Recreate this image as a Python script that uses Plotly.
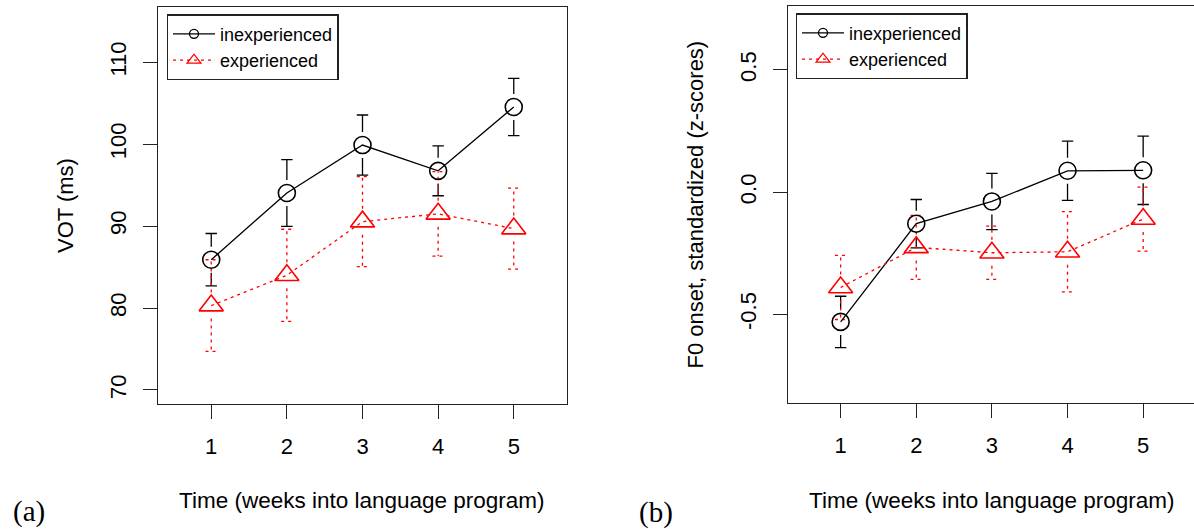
import plotly.graph_objects as go

# ---------------- data ----------------
weeks = [1, 2, 3, 4, 5]
week_labels = ["1", "2", "3", "4", "5"]

# (a) VOT (ms)
vot_inexp_mean = [85.9, 94.05, 99.9, 96.75, 104.55]
vot_inexp_se = [3.2, 4.07, 3.67, 3.04, 3.5]
vot_exp_mean = [80.3, 84.0, 90.55, 91.5, 89.7]
vot_exp_se = [5.6, 5.62, 5.5, 5.15, 4.95]
vot_ticks = [70, 80, 90, 100, 110]
vot_ticklabels = ["70", "80", "90", "100", "110"]

# (b) F0 onset, standardized (z-scores)
f0_inexp_mean = [-0.531, -0.129, -0.038, 0.0875, 0.0895]
f0_inexp_se = [0.105, 0.099, 0.115, 0.121, 0.14]
f0_exp_mean = [-0.39, -0.226, -0.248, -0.244, -0.11]
f0_exp_se = [0.131, 0.131, 0.109, 0.164, 0.131]
f0_ticks = [-0.5, 0.0, 0.5]
f0_ticklabels = ["-0.5", "0.0", "0.5"]

series_names = ["inexperienced", "experienced"]

# ---------------- layout geometry ----------------
W, H = 1194, 529
FONT = "Liberation Sans, Arial, Helvetica, sans-serif"
AX = "#222222"
BLACK = "#000000"
RED = "#FF0000"
DOT = "3px,4px"

xr1 = [0.3, 5.7]
dom_x1 = [158.3 / W, 566.7 / W]
dom_y1 = [(H - 404.3) / H, (H - 6.7) / H]
yr1 = [68.25, 116.79]

dom_x2 = [787.7 / W, 1.0]
px_per_x = (566.7 - 158.3) / (xr1[1] - xr1[0])
xr2 = [0.3, 0.3 + (W - 787.7) / px_per_x]
dom_y2 = [(H - 403.3) / H, (H - 5.7) / H]
yr2 = [-0.864, 0.763]


def units_per_px_y(dom, rng):
    return (rng[1] - rng[0]) / ((dom[1] - dom[0]) * H)


def errbar_xy(xs, means, ses, dom_y, rng_y, gap_px=13.0, cap_px=5.7):
    uy = units_per_px_y(dom_y, rng_y)
    gap = gap_px * uy
    cap = cap_px / px_per_x
    X, Y = [], []
    for x, m, e in zip(xs, means, ses):
        for sgn in (1, -1):
            end = m + sgn * e
            if e > gap:
                X += [x, x, None]
                Y += [m + sgn * gap, end, None]
            X += [x - cap, x + cap, None]
            Y += [end, end, None]
    return X, Y


fig = go.Figure()


def add_panel(xa, ya, legend, inexp_m, inexp_s, exp_m, exp_s, dom_y, rng_y):
    # error bars
    ex, ey = errbar_xy(weeks, inexp_m, inexp_s, dom_y, rng_y)
    fig.add_trace(go.Scatter(x=ex, y=ey, mode="lines", showlegend=False,
                             line=dict(color=BLACK, width=1.3),
                             xaxis=xa, yaxis=ya, hoverinfo="skip"))
    ex, ey = errbar_xy(weeks, exp_m, exp_s, dom_y, rng_y)
    fig.add_trace(go.Scatter(x=ex, y=ey, mode="lines", showlegend=False,
                             line=dict(color=RED, width=1.3, dash=DOT),
                             xaxis=xa, yaxis=ya, hoverinfo="skip"))
    # means
    fig.add_trace(go.Scatter(x=weeks, y=inexp_m, mode="lines+markers", showlegend=False,
                             line=dict(color=BLACK, width=1.3),
                             marker=dict(symbol="circle-open", size=17, color=BLACK,
                                         line=dict(width=1.6, color=BLACK)),
                             xaxis=xa, yaxis=ya, name=series_names[0]))
    fig.add_trace(go.Scatter(x=weeks, y=exp_m, mode="lines+markers", showlegend=False,
                             line=dict(color=RED, width=1.3, dash=DOT),
                             marker=dict(symbol="triangle-up-open", size=21, color=RED,
                                         line=dict(width=1.6, color=RED)),
                             xaxis=xa, yaxis=ya, name=series_names[1]))
    # legend entries (small symbols as in the original)
    fig.add_trace(go.Scatter(x=[None], y=[None], mode="lines+markers", name=series_names[0],
                             line=dict(color=BLACK, width=1.3),
                             marker=dict(symbol="circle-open", size=9, color=BLACK,
                                         line=dict(width=1.3, color=BLACK)),
                             xaxis=xa, yaxis=ya, legend=legend))
    fig.add_trace(go.Scatter(x=[None], y=[None], mode="lines+markers", name=series_names[1],
                             line=dict(color=RED, width=1.3, dash=DOT),
                             marker=dict(symbol="triangle-up-open", size=12, color=RED,
                                         line=dict(width=1.3, color=RED)),
                             xaxis=xa, yaxis=ya, legend=legend))


add_panel("x", "y", "legend", vot_inexp_mean, vot_inexp_se, vot_exp_mean, vot_exp_se, dom_y1, yr1)
add_panel("x2", "y2", "legend2", f0_inexp_mean, f0_inexp_se, f0_exp_mean, f0_exp_se, dom_y2, yr2)

xcommon = dict(showgrid=False, zeroline=False, showline=True, mirror=True,
               linecolor=AX, linewidth=1.3, ticks="outside", ticklen=14,
               tickwidth=1.3, tickcolor=AX, tickvals=weeks, ticktext=week_labels,
               tickfont=dict(family=FONT, size=22, color="black"),
               ticklabelstandoff=8)
ycommon = dict(showgrid=False, zeroline=False, showline=True,
               linecolor=AX, linewidth=1.3, ticks="outside", ticklen=14,
               tickwidth=1.3, tickcolor=AX, tickangle=-90,
               tickfont=dict(family=FONT, size=22, color="black"),
               ticklabelstandoff=8)

legcommon = dict(xanchor="left", yanchor="top", bgcolor="white",
                 bordercolor=AX, borderwidth=1.3,
                 font=dict(family=FONT, size=18, color="black"),
                 tracegroupgap=0, itemclick=False, itemwidth=42)

fig.update_layout(
    width=W, height=H, autosize=False,
    margin=dict(l=0, r=0, t=0, b=0),
    paper_bgcolor="white", plot_bgcolor="white",
    font=dict(family=FONT, size=18, color="black"),
    xaxis=dict(domain=dom_x1, range=xr1, anchor="y", **xcommon),
    yaxis=dict(domain=dom_y1, range=yr1, anchor="x", mirror=True,
               tickvals=vot_ticks, ticktext=vot_ticklabels, **ycommon),
    xaxis2=dict(domain=dom_x2, range=xr2, anchor="y2", **xcommon),
    yaxis2=dict(domain=dom_y2, range=yr2, anchor="x2", mirror=False,
                tickvals=f0_ticks, ticktext=f0_ticklabels, **ycommon),
    legend=dict(x=166.7 / W, y=(H - 14.3) / H, **legcommon),
    legend2=dict(x=795.7 / W, y=(H - 13.3) / H, **legcommon),
    showlegend=True,
)

ann = []
ann.append(dict(text="VOT (ms)", x=65 / W, y=(H - 206) / H, xref="paper", yref="paper",
                textangle=-90, showarrow=False, xanchor="center", yanchor="middle",
                font=dict(family=FONT, size=22, color="black")))
ann.append(dict(text="F0 onset, standardized (z-scores)", x=694.5 / W, y=(H - 205) / H,
                xref="paper", yref="paper", textangle=-90, showarrow=False,
                xanchor="center", yanchor="middle",
                font=dict(family=FONT, size=22, color="black")))
for cx in (362.5, 991.6):
    ann.append(dict(text="Time (weeks into language program)", x=cx / W, y=(H - 500) / H,
                    xref="paper", yref="paper", showarrow=False,
                    xanchor="center", yanchor="middle",
                    font=dict(family=FONT, size=22.5, color="black")))
ann.append(dict(text="(a)", x=29 / W, y=(H - 511) / H, xref="paper", yref="paper",
                showarrow=False, xanchor="center", yanchor="middle",
                font=dict(family="Liberation Serif, Times New Roman, serif", size=29, color="black")))
ann.append(dict(text="(b)", x=656 / W, y=(H - 512) / H, xref="paper", yref="paper",
                showarrow=False, xanchor="center", yanchor="middle",
                font=dict(family="Liberation Serif, Times New Roman, serif", size=29, color="black")))
fig.update_layout(annotations=ann)

fig.write_html("out.html",
               config={"displayModeBar": False},
               post_script="document.body.style.margin='0';document.body.style.overflow='hidden';")
